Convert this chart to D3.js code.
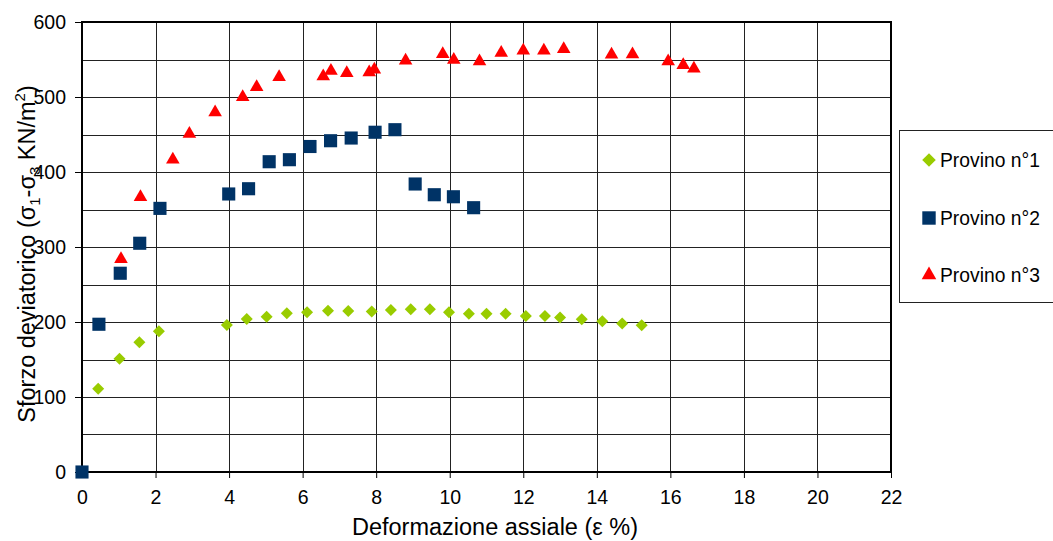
<!DOCTYPE html>
<html>
<head>
<meta charset="utf-8">
<script src="https://cdn.jsdelivr.net/npm/d3@7"></script>
<style>
  html, body { margin: 0; padding: 0; background: #fff; }
  svg { display: block; font-family: "Liberation Sans", Arial, sans-serif; }
</style>
</head>
<body>
<svg id="chart" width="1053" height="541"></svg>
<script>
// ---- data ----
const seriesNames = ["Provino n°1", "Provino n°2", "Provino n°3"];

const p1x = [0, 0.44, 1.02, 1.56, 2.09, 3.94, 4.48, 5.02, 5.57, 6.12, 6.69, 7.24, 7.88, 8.40, 8.94, 9.46, 9.98, 10.52, 11.00, 11.52, 12.07, 12.59, 13.00, 13.59, 14.15, 14.69, 15.22];
const p1y = [0, 111, 151, 173, 187.5, 196, 204, 207, 211.5, 213, 215, 214.7, 214, 216, 217, 217, 213, 211, 211, 211, 208, 208, 206, 203.5, 201, 198, 195.5];

const p2x = [0, 0.46, 1.04, 1.57, 2.12, 3.99, 4.53, 5.09, 5.64, 6.20, 6.76, 7.32, 7.97, 8.51, 9.06, 9.58, 10.10, 10.65];
const p2y = [0, 197, 265, 305, 351.5, 370.7, 377.7, 413.7, 416.4, 434, 441.7, 445.3, 453, 456.4, 384, 369.7, 367, 352.4];

const p3x = [1.06, 1.59, 2.47, 2.92, 3.62, 4.37, 4.75, 5.36, 6.56, 6.77, 7.20, 7.81, 7.95, 8.80, 9.81, 10.11, 10.81, 11.40, 12.00, 12.56, 13.10, 14.40, 14.97, 15.94, 16.35, 16.64];
const p3y = [284, 366.7, 416.4, 451, 479.5, 500, 513.3, 526.7, 527.5, 535, 532, 532.8, 536.4, 548.4, 557.3, 549.7, 547.5, 559, 562, 562, 564, 556.4, 557, 547.5, 542.7, 537.8];

const xTicks = [0, 2, 4, 6, 8, 10, 12, 14, 16, 18, 20, 22];
const yTicks = [0, 100, 200, 300, 400, 500, 600];
const yGrid = [50, 100, 150, 200, 250, 300, 350, 400, 450, 500, 550];

const colors = ["#99cc00", "#003366", "#ff0000"];

// ---- layout ----
const svg = d3.select("#chart");
const m = { left: 82, top: 22, right: 891, bottom: 472 };
const x = d3.scaleLinear().domain([0, 22]).range([m.left, m.right]);
const y = d3.scaleLinear().domain([0, 600]).range([m.bottom, m.top]);

// grid
svg.append("g").selectAll("line").data(yGrid).join("line")
  .attr("x1", m.left).attr("x2", m.right)
  .attr("y1", d => Math.round(y(d)) + 0.5).attr("y2", d => Math.round(y(d)) + 0.5)
  .attr("stroke", "#222").attr("stroke-width", 1);
svg.append("g").selectAll("line").data(xTicks.slice(1, -1)).join("line")
  .attr("y1", m.top).attr("y2", m.bottom)
  .attr("x1", d => Math.round(x(d)) + 0.5).attr("x2", d => Math.round(x(d)) + 0.5)
  .attr("stroke", "#222").attr("stroke-width", 1);

// axes
const xAxis = d3.axisBottom(x).tickValues(xTicks).tickSize(6).tickPadding(12).tickFormat(d3.format("d"));
const gx = svg.append("g").attr("transform", `translate(0,${m.bottom})`).call(xAxis);
gx.select(".domain").remove();
gx.selectAll("line").attr("stroke", "#000");
gx.selectAll("text").attr("font-size", 19.5).attr("fill", "#000").attr("font-family", "Liberation Sans, Arial, sans-serif");

const yAxis = d3.axisLeft(y).tickValues(yTicks).tickSize(7).tickPadding(9).tickFormat(d3.format("d"));
const gy = svg.append("g").attr("transform", `translate(${m.left},0)`).call(yAxis);
gy.select(".domain").remove();
gy.selectAll("line").attr("stroke", "#000");
gy.selectAll("text").attr("font-size", 19.5).attr("fill", "#000").attr("font-family", "Liberation Sans, Arial, sans-serif");

// frame
svg.append("rect")
  .attr("x", m.left).attr("y", m.top)
  .attr("width", m.right - m.left).attr("height", m.bottom - m.top)
  .attr("fill", "none").attr("stroke", "#000").attr("stroke-width", 2);

// markers
const diamond = d3.symbol().type(d3.symbolSquare).size(72);
const square = d3.symbol().type(d3.symbolSquare).size(172);
const triangle = d3.symbol().type(d3.symbolTriangle).size(80);

function pts(xs, ys) { return xs.map((v, i) => [v, ys[i]]); }

svg.append("g").selectAll("path").data(pts(p1x, p1y)).join("path")
  .attr("d", diamond)
  .attr("transform", d => `translate(${x(d[0])},${y(d[1])}) rotate(45)`)
  .attr("fill", colors[0]);

svg.append("g").selectAll("path").data(pts(p2x, p2y)).join("path")
  .attr("d", square)
  .attr("transform", d => `translate(${x(d[0])},${y(d[1])})`)
  .attr("fill", colors[1]);

svg.append("g").selectAll("path").data(pts(p3x, p3y)).join("path")
  .attr("d", triangle)
  .attr("transform", d => `translate(${x(d[0])},${y(d[1])})`)
  .attr("fill", colors[2]);

// axis titles
svg.append("text")
  .attr("x", 495).attr("y", 535)
  .attr("text-anchor", "middle").attr("font-size", 23.5).attr("fill", "#000")
  .text("Deformazione assiale (ε %)");

const yt = svg.append("text")
  .attr("transform", "translate(35,254) rotate(-90)")
  .attr("text-anchor", "middle").attr("font-size", 23.5).attr("fill", "#000");
yt.append("tspan").text("Sforzo deviatorico (σ");
yt.append("tspan").attr("font-size", 15).attr("dy", 5).text("1");
yt.append("tspan").attr("dy", -5).text("-σ");
yt.append("tspan").attr("font-size", 15).attr("dy", 5).text("3");
yt.append("tspan").attr("dy", -5).text("  KN/m");
yt.append("tspan").attr("font-size", 15).attr("dy", -10).text("2");
yt.append("tspan").attr("dy", 10).text(")");

// legend
svg.append("rect")
  .attr("x", 899.5).attr("y", 130.5).attr("width", 160).attr("height", 172)
  .attr("fill", "#fff").attr("stroke", "#222").attr("stroke-width", 1);

const legY = [160, 218, 275];
const legRot = [45, 0, 0];
const legSizes = [d3.symbol().type(d3.symbolSquare).size(92), d3.symbol().type(d3.symbolSquare).size(180), d3.symbol().type(d3.symbolTriangle).size(92)];
const lg = svg.append("g").selectAll("g").data(seriesNames).join("g")
  .attr("transform", (d, i) => `translate(929,${legY[i]})`);
lg.append("path")
  .attr("d", (d, i) => legSizes[i]())
  .attr("transform", (d, i) => `rotate(${legRot[i]})`)
  .attr("fill", (d, i) => colors[i]);
lg.append("text")
  .attr("x", 11).attr("dy", "0.35em")
  .attr("font-size", 19.3).attr("fill", "#000")
  .text(d => d);
</script>
</body>
</html>
